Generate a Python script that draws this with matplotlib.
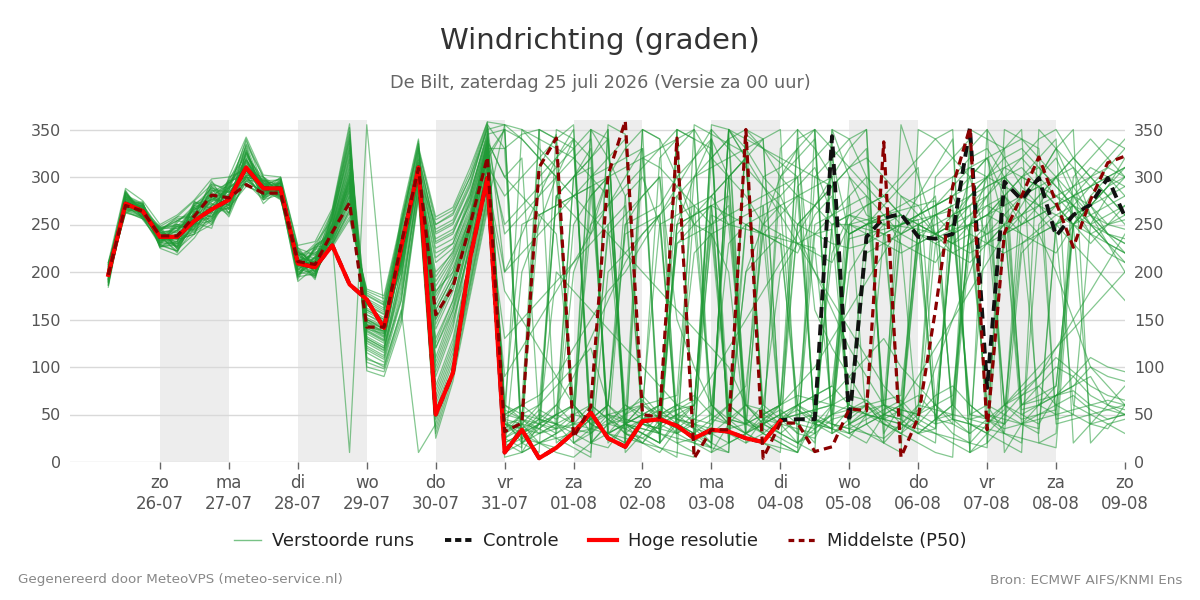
import matplotlib
matplotlib.use('Agg')
import matplotlib.pyplot as plt
import pandas as pd
from matplotlib.lines import Line2D

# ---------------- data ----------------
run_start = '2026-07-25 06:00'
n_steps = 60
step = '6h'

weekday_labels = ['zo', 'ma', 'di', 'wo', 'do', 'vr', 'za', 'zo', 'ma', 'di', 'wo', 'do', 'vr', 'za', 'zo']
date_labels = ['26-07', '27-07', '28-07', '29-07', '30-07', '31-07', '01-08', '02-08',
               '03-08', '04-08', '05-08', '06-08', '07-08', '08-08', '09-08']
tick_dates = ['2026-07-26', '2026-07-27', '2026-07-28', '2026-07-29', '2026-07-30', '2026-07-31',
              '2026-08-01', '2026-08-02', '2026-08-03', '2026-08-04', '2026-08-05', '2026-08-06',
              '2026-08-07', '2026-08-08', '2026-08-09']
shade_days = ['2026-07-26', '2026-07-28', '2026-07-30', '2026-08-01', '2026-08-03',
              '2026-08-05', '2026-08-07']

hres = [197, 272, 264, 237, 237, 254, 266, 276, 310, 288, 288, 209, 205,
        228, 187, 171, 141, 226, 310, 50, 94, 215, 299,
        10, 34, 4, 15, 31, 52, 25, 16, 43, 45, 38, 25, 34, 32, 25, 21, 43]

control = [197, 272, 264, 237, 237, 254, 266, 276, 310, 288, 288, 209, 205,
           228, 187, 171, 141, 226, 310, 50, 94, 215, 299,
           10, 34, 4, 15, 31, 52, 25, 16, 43, 45, 38, 25, 34, 32, 25, 21,
           44, 45, 45, 343, 42, 237, 257, 261, 237, 235, 240, 352, 78, 295, 276, 299, 238, 260, 271, 299, 258]

median = [197, 270, 264, 238, 238, 259, 281, 278, 292, 283, 283, 211, 208,
          242, 273, 142, 142, 230, 309, 155, 184, 250, 321,
          32, 41, 310, 341, 26, 58, 302, 359, 50, 47, 341, 4, 34, 34, 350, 4, 41,
          41, 11, 16, 56, 54, 337, 5, 47, 160, 290, 352, 34, 241, 280, 321, 273, 226, 276, 315, 322]

ens_runs = [
    [192,275,266,233,244,262,258,290,300,280,291,203,214, 245,290,140,135,210,305,180,200,260,330,
     25,40,310,345,20,35,60,280,300,250, 40,30,15,350,320,60,45,30,240,260, 280,40,20,355,300,240,230,250,260,280, 300,290,270,250,40,35,60],
    [203,268,259,242,230,248,280,270,325,294,283,220,199, 250,320,130,120,190,330,120,160,240,340,
     15,30,50,40,300,320,350,20,45,60, 230,250,270,45,30,20,10,350,330,300, 40,55,60,50,230,260,240,300,320,280, 250,270,300,310,260,240,230],
    [186,279,270,228,252,270,288,262,296,297,278,196,226, 238,280,160,150,230,318,220,230,280,345,
     350,30,45,35,250,280,300,40,20,10, 35,50,340,300,60,40,30,45,50,220, 260,250,240,50,40,60,240,250,300,330, 350,20,30,280,270,250,260],
    [208,264,256,246,224,240,250,296,332,276,295,214,192, 260,340,150,140,250,335,60,110,220,330,
     40,25,20,30,45,350,320,280,40,35, 50,60,240,200,30,45,55,40,20,350, 300,260,250,240,230,45,50,330,350,10, 40,60,80,250,280,300,290],
    [195,283,262,236,238,258,274,282,316,290,286,208,210, 242,300,145,135,220,310,150,190,250,320,
     30,50,60,280,300,330,40,35,45,30, 250,300,340,30,20,45,60,290,310,260, 240,250,255,260,250,240,60,40,30,300, 280,290,300,260,240,250,255],
    [199,270,272,225,218,236,262,268,290,283,300,225,218, 232,10,355,160,240,300,250,260,300,350,
     355,20,35,50,40,60,45,30,25,40, 50,35,30,45,60,55,40,20,30,45, 50,60,40,35,50,70,80,60,45,35, 40,50,60,70,55,45,50],
    [201,277,260,248,258,275,292,288,338,300,280,190,205, 248,310,120,110,180,290,90,140,230,310,
     10,200,250,300,340,45,30,20,350,340, 300,250,60,40,30,270,280,300,320,340, 30,40,50,45,250,240,260,270,50,40, 300,310,290,270,250,280,300],
    [190,266,268,240,228,252,246,300,308,272,289,212,230, 255,330,155,145,260,340,100,150,210,300,
     50,60,45,40,30,20,350,10,30,50, 60,220,240,250,260,270,45,40,35,50, 200,230,250,260,240,235,245,250,60,30, 220,240,250,260,270,240,220],
    [205,285,255,232,248,266,280,258,300,295,293,200,196, 240,285,165,155,200,300,200,220,270,335,
     30,45,300,320,340,20,15,40,60,45, 330,350,320,300,20,30,45,50,55,60, 70,65,50,45,30,20,300,320,330,300, 280,260,240,60,50,40,30],
    [193,274,270,238,236,250,270,276,320,287,276,218,208, 236,295,135,125,215,315,130,170,245,325,
     20,10,40,35,50,45,240,260,280,300, 45,40,30,20,350,330,300,280,270,250, 260,255,250,248,245,240,250,60,45,30, 20,250,270,290,310,300,280],
    [198,269,262,243,226,262,284,294,312,279,296,197,212, 252,315,125,115,170,295,70,120,200,290,
     180,150,120,90,60,40,30,250,280,300, 150,100,60,40,200,250,300,330,160,120, 90,60,40,30,45,100,150,200,250,280, 260,240,200,150,100,80,60],
    [188,280,258,230,250,244,256,272,302,298,284,222,200, 230,265,175,165,245,325,240,250,290,355,
     330,345,350,20,35,300,310,320,330,40, 50,45,40,300,280,250,240,230,220,210, 250,270,280,300,320,340,350,10,20,240, 250,260,270,280,290,300,310],
    [210,272,266,236,232,272,276,286,328,284,290,206,222, 262,345,110,100,160,10,40,100,190,280,
     5,10,20,25,30,35,40,45,350,340, 20,25,30,35,40,60,200,230,240,245, 40,30,20,10,350,340,320,300,230,250, 55,60,70,80,90,60,50],
    [196,262,271,245,256,258,296,266,294,276,282,214,194, 244,305,142,138,225,312,170,210,255,338,
     300,280,260,240,60,40,30,20,320,310, 290,270,250,60,45,30,330,350,30,250, 250,245,240,230,220,210,240,260,280,310, 320,300,280,260,250,240,235],
    [202,278,257,228,222,246,266,292,318,292,298,202,216, 234,275,168,158,235,305,230,240,285,342,
     60,45,30,40,20,10,200,220,240,260, 280,300,320,340,30,50,60,250,270,290, 310,330,45,55,50,40,250,280,300,60, 50,40,70,90,110,100,95],
    [191,284,264,240,242,268,252,280,306,288,278,224,206, 258,325,148,140,255,338,80,130,215,315,
     45,20,10,350,340,320,30,40,50,60, 280,250,240,50,40,30,20,10,45,320, 240,250,260,230,30,45,60,250,270,260, 240,60,50,300,320,340,330],
    [207,267,269,234,234,240,278,270,335,300,288,194,228, 241,288,150,142,212,308,160,195,252,328,
     35,50,45,60,40,280,300,30,20,40, 60,55,320,340,350,40,50,30,25,60, 300,280,260,240,250,45,40,230,250,60, 45,50,55,250,270,290,320],
    [194,276,260,246,246,256,288,284,298,282,294,210,198, 233,268,172,162,242,320,245,255,295,352,
     40,35,55,45,60,30,50,45,40,35, 230,240,250,260,270,280,290,300,40,35, 30,220,230,240,250,260,270,280,290,300, 60,65,70,75,60,55,50],
    [200,271,274,226,238,274,262,296,312,294,281,216,210, 265,352,100,95,150,280,30,90,180,270,
     355,350,340,330,320,300,280,60,50,40, 30,20,10,40,60,300,310,330,350,30, 40,50,60,280,270,240,220,210,230,250, 280,300,320,280,250,230,220],
    [186,281,263,239,226,250,272,260,326,278,292,205,224, 246,302,138,128,218,312,140,180,248,322,
     25,35,45,280,260,240,300,330,350,20, 40,60,280,300,320,45,30,20,35,50, 240,250,255,40,30,35,250,270,290,300, 310,290,270,250,230,250,270],
    [204,265,258,244,254,264,258,288,304,290,299,198,202, 228,258,180,172,250,328,255,265,305,358,
     50,60,70,90,120,150,180,200,230,260, 290,320,340,20,30,40,60,80,100,130, 160,190,220,250,280,310,340,10,30,50, 70,90,120,150,180,210,240],
    [197,277,267,231,230,246,292,276,318,286,277,220,214, 256,335,128,118,185,298,110,160,225,305,
     40,30,20,15,30,45,60,45,40,30, 20,10,350,330,310,290,270,250,240,230, 225,230,240,250,260,270,280,290,300,310, 300,290,280,270,260,250,245],
    [192,282,261,241,244,270,268,266,300,296,287,208,196, 240,298,144,133,222,310,175,205,252,330,
     330,20,40,50,60,350,340,30,45,55, 40,30,250,270,40,50,60,340,350,40, 30,20,50,60,250,260,270,50,60,240, 260,280,300,320,340,320,300],
    [209,270,270,229,222,254,280,292,330,280,293,212,218, 237,282,158,148,205,302,210,225,275,340,
     240,260,280,300,320,340,20,40,60,50, 45,40,35,30,25,20,15,10,350,330, 310,290,270,250,260,270,280,240,230,220, 230,240,250,260,270,280,290],
    [195,263,256,247,250,242,254,282,308,293,283,200,208, 251,318,122,112,195,300,95,145,235,318,
     20,30,40,200,180,160,140,120,100,80, 60,40,20,350,320,290,260,230,200,170, 140,110,80,60,40,30,20,10,350,320, 290,270,250,230,210,190,170],
    [189,279,268,235,236,268,276,274,296,284,297,226,204, 231,272,166,156,238,318,235,245,282,348,
     10,20,30,40,50,60,45,35,25,15, 5,355,345,335,325,40,50,60,70,80, 60,50,40,30,20,10,5,350,340,330, 50,60,70,80,100,90,85],
    [203,273,263,243,258,258,262,298,322,299,279,192,226, 264,348,105,98,155,283,35,95,185,275,
     90,120,150,180,210,240,270,300,330,20, 45,60,90,120,150,180,210,240,270,300, 330,350,30,60,90,120,150,180,210,240, 270,300,330,290,260,230,200],
    [198,268,273,227,228,262,290,270,302,276,290,215,200, 243,292,148,137,214,309,185,215,258,333,
     45,40,35,50,300,310,30,40,50,320, 340,30,45,60,250,240,230,60,50,40, 35,45,55,65,45,35,260,270,280,60, 70,80,60,50,40,45,50],
    [206,286,259,237,248,246,270,286,340,290,286,204,212, 249,308,132,122,202,306,120,165,238,318,
     350,340,320,300,280,260,240,220,200,180, 160,140,120,100,60,40,30,20,10,350, 340,300,280,260,250,240,230,220,230,240, 250,260,270,280,290,300,310],
    [190,272,265,245,226,272,282,262,310,296,280,218,220, 235,278,162,152,228,304,225,235,272,337,
     55,45,35,25,15,5,355,345,40,50, 60,70,50,40,30,20,40,60,45,35, 25,50,45,40,60,300,320,340,20,40, 60,80,100,90,70,60,55],
    [201,266,262,232,240,256,256,290,292,281,295,207,194, 257,328,145,138,248,335,75,125,212,312,
     280,300,320,340,355,20,40,50,60,250, 260,270,60,45,40,250,270,280,290,300, 40,50,240,250,260,270,280,300,320,250, 240,230,220,250,260,270,280],
    [187,280,271,242,234,240,286,278,324,287,287,221,210, 245,296,141,131,217,311,155,190,249,326,
     60,50,40,30,200,250,300,40,30,20, 350,340,45,40,200,220,240,45,40,35, 55,65,45,240,260,280,45,30,260,250, 40,35,250,280,300,320,340],
    [199,275,257,230,254,266,274,294,306,300,282,199,216, 229,262,178,168,252,330,250,262,300,356,
     200,220,240,260,280,300,320,340,45,50, 55,60,270,260,250,240,45,50,55,60, 235,240,245,250,255,40,45,250,260,270, 280,290,45,50,250,260,270],
    [205,269,266,248,224,252,260,268,316,278,298,213,202, 261,338,115,105,170,290,55,105,195,285,
     25,15,350,340,20,30,45,55,65,45, 35,25,15,350,340,330,320,310,300,290, 30,40,50,60,70,50,30,20,40,60, 80,100,120,140,160,180,200],
    [193,284,260,234,244,260,294,284,298,292,277,209,228, 239,294,147,136,221,310,165,200,253,331,
     40,45,260,270,280,290,300,310,320,330, 340,350,10,20,30,40,50,60,70,80, 240,250,260,270,280,290,300,310,320,330, 340,320,300,280,260,240,230],
    [196,264,269,226,230,274,266,272,334,286,292,223,206, 237,285,155,147,210,306,195,222,265,338,
     300,320,45,40,35,30,250,270,40,35, 30,45,60,230,250,260,270,55,45,35, 280,300,60,55,50,60,70,250,240,260, 280,300,330,350,20,40,45],
    [208,278,264,244,250,248,278,296,300,282,284,195,198, 254,322,130,120,195,302,105,155,228,312,
     15,25,40,60,90,130,170,210,240,260, 40,30,20,350,330,300,280,240,200,160, 120,90,60,40,30,45,60,250,280,300, 320,340,350,320,300,280,260],
    [191,271,256,239,220,262,250,280,314,297,290,211,220, 232,275,170,160,232,315,232,242,280,345,
     45,60,350,340,330,45,60,250,260,270, 300,320,350,20,250,240,230,220,260,280, 60,50,45,250,255,260,265,45,40,55, 230,245,260,270,240,220,210],
    [202,281,272,233,238,256,284,266,310,280,296,206,212, 250,312,127,117,205,300,125,170,240,320,
     30,40,20,10,5,20,30,40,50,60, 45,35,20,10,350,340,45,55,40,30, 45,60,45,30,60,55,50,45,50,45, 40,45,50,55,60,65,60],
    [195,267,262,247,248,244,270,290,326,293,280,219,196, 243,300,139,129,219,313,145,185,247,324,
     250,270,290,310,330,350,30,50,70,50, 30,270,280,250,60,45,40,250,270,290, 310,320,300,280,260,240,230,240,60,50, 40,30,250,270,290,310,330],
    [184,276,268,229,232,264,290,274,296,284,289,201,224, 226,255,182,175,255,332,258,268,310,358,
     355,340,320,300,60,40,50,30,20,45, 55,65,260,250,245,240,235,230,225,50, 55,60,65,70,240,250,260,280,300,320, 330,310,290,270,250,230,210],
    [210,288,275,250,260,276,298,300,342,302,300,228,232, 267,356,96,90,145,278,25,85,175,265,
     130,150,170,190,210,230,250,40,35,30, 25,20,15,10,345,330,315,300,40,50, 60,250,270,290,310,60,45,40,30,20, 10,350,330,310,290,270,250],
    [198,262,258,236,226,250,258,276,320,278,285,214,204, 241,290,150,140,213,308,178,212,256,332,
     40,35,30,35,40,45,50,55,60,65, 70,300,310,320,330,340,350,20,40,60, 250,255,260,265,270,275,45,40,35,30, 25,20,15,250,270,290,310],
    [193,279,266,243,242,268,276,288,304,291,293,196,216, 259,332,118,108,175,293,65,115,205,295,
     200,240,280,320,350,20,40,60,45,30, 250,260,270,280,45,35,25,15,300,320, 340,350,20,40,230,240,250,260,270,280, 60,70,80,250,270,290,300],
    [204,273,261,231,236,242,264,270,318,288,281,222,200, 236,280,160,150,207,303,215,230,276,341,
     50,45,40,280,300,320,340,40,35,30, 250,260,270,45,40,35,300,320,340,30, 250,240,230,220,230,240,250,50,45,40, 260,280,300,320,300,280,260],
    [189,268,270,241,246,258,286,284,302,296,297,208,210, 247,304,137,127,216,311,150,185,245,323,
     350,10,20,30,40,35,30,25,20,15, 10,5,355,350,40,50,60,70,65,60, 55,50,45,40,35,30,25,20,15,350, 340,330,40,45,50,55,60],
    [201,283,263,237,222,266,272,262,328,283,286,217,226, 229,265,176,166,246,322,242,252,292,352,
     60,250,260,270,280,290,50,40,30,20, 240,260,280,300,320,50,40,35,30,250, 260,270,280,260,240,230,220,230,240,250, 260,270,280,290,300,310,300],
    [197,266,259,245,254,250,254,294,306,289,279,203,198, 263,342,108,102,158,286,45,98,188,278,
     10,40,60,80,100,120,60,40,30,20, 350,340,330,60,45,30,20,10,60,70, 90,110,130,100,80,60,40,30,45,60, 75,90,110,95,80,70,65],
    [206,277,271,227,232,270,280,280,312,279,294,212,214, 244,297,143,132,220,311,160,195,251,327,
     20,30,40,50,60,250,270,290,310,330, 350,20,40,60,80,240,260,280,45,40, 35,30,25,40,55,270,290,310,300,290, 280,270,260,250,240,230,220],
    [192,270,264,239,240,254,266,286,300,294,288,210,206, 238,287,152,143,209,305,190,218,262,334,
     40,350,330,310,30,45,60,240,250,260, 30,40,50,300,320,340,45,60,250,260, 270,280,60,50,40,230,240,250,260,280, 300,320,340,20,40,60,80],
]

title = 'Windrichting (graden)'
subtitle = 'De Bilt, zaterdag 25 juli 2026 (Versie za 00 uur)'
footer_left = 'Gegenereerd door MeteoVPS (meteo-service.nl)'
footer_right = 'Bron: ECMWF AIFS/KNMI Ens'
legend_labels = ['Verstoorde runs', 'Controle', 'Hoge resolutie', 'Middelste (P50)']

# ---------------- plot ----------------
times = pd.date_range(run_start, periods=n_steps, freq=step)

fig = plt.figure(figsize=(12, 6), dpi=100)
ax = fig.add_axes([70 / 1200, 1 - 462 / 600, (1125 - 70) / 1200, (462 - 120) / 600])

for d in shade_days:
    d0 = pd.Timestamp(d)
    ax.axvspan(d0, d0 + pd.Timedelta(days=1), color='#ededed', lw=0, zorder=0)

ens_color = '#1f9a35'
for run in ens_runs:
    ax.plot(times[:len(run)], run, color=ens_color, lw=0.9, alpha=0.55, zorder=2)

ax.plot(times[:len(control)], control, color='#111111', lw=2.8, dashes=(2.8, 1.7), zorder=3)
ax.plot(times[:len(hres)], hres, color='#ff0000', lw=3.0, zorder=4, solid_joinstyle='round')
ax.plot(times[:len(median)], median, color='#8b0000', lw=2.3, dashes=(2.6, 1.6), zorder=5)

ax.set_ylim(0, 360)
ax.set_yticks(range(0, 351, 50))
ax.set_xlim(pd.Timestamp('2026-07-24 16:40'), pd.Timestamp('2026-08-09 00:00'))
ax.set_xticks(pd.to_datetime(tick_dates))
ax.set_xticklabels([f'{w}\n{d}' for w, d in zip(weekday_labels, date_labels)], linespacing=1.2)

ax.grid(axis='y', color='#d9d9d9', lw=1, zorder=1)
ax.set_axisbelow(True)
for s in ax.spines.values():
    s.set_visible(False)

ax.tick_params(axis='x', length=5, width=1, color='#666666', labelcolor='#555555',
               labelsize=12, pad=4)
ax.tick_params(axis='y', left=False, right=False, labelleft=True, labelright=True,
               labelcolor='#555555', labelsize=11.5, pad=3)

fig.text(0.5, 1 - 41 / 600, title, ha='center', va='center', fontsize=21, color='#333333')
fig.text(0.5, 1 - 83 / 600, subtitle, ha='center', va='center', fontsize=12.7, color='#666666')

handles = [
    Line2D([], [], color=ens_color, lw=1, alpha=0.6),
    Line2D([], [], color='#111111', lw=2.8, dashes=(1.6, 1.0)),
    Line2D([], [], color='#ff0000', lw=3.0),
    Line2D([], [], color='#8b0000', lw=2.3, dashes=(1.8, 1.4)),
]
fig.legend(handles, legend_labels, loc='center', bbox_to_anchor=(0.5, 1 - 541 / 600), ncol=4,
           frameon=False, fontsize=12.9, handlelength=1.55, columnspacing=1.7, handletextpad=0.6,
           labelcolor='#222222')

fig.text(18 / 1200, 1 - 580 / 600, footer_left, ha='left', va='center', fontsize=9.7, color='#888888')
fig.text(1182 / 1200, 1 - 580 / 600, footer_right, ha='right', va='center', fontsize=9.7, color='#888888')

fig.savefig('out.png', dpi=100)
